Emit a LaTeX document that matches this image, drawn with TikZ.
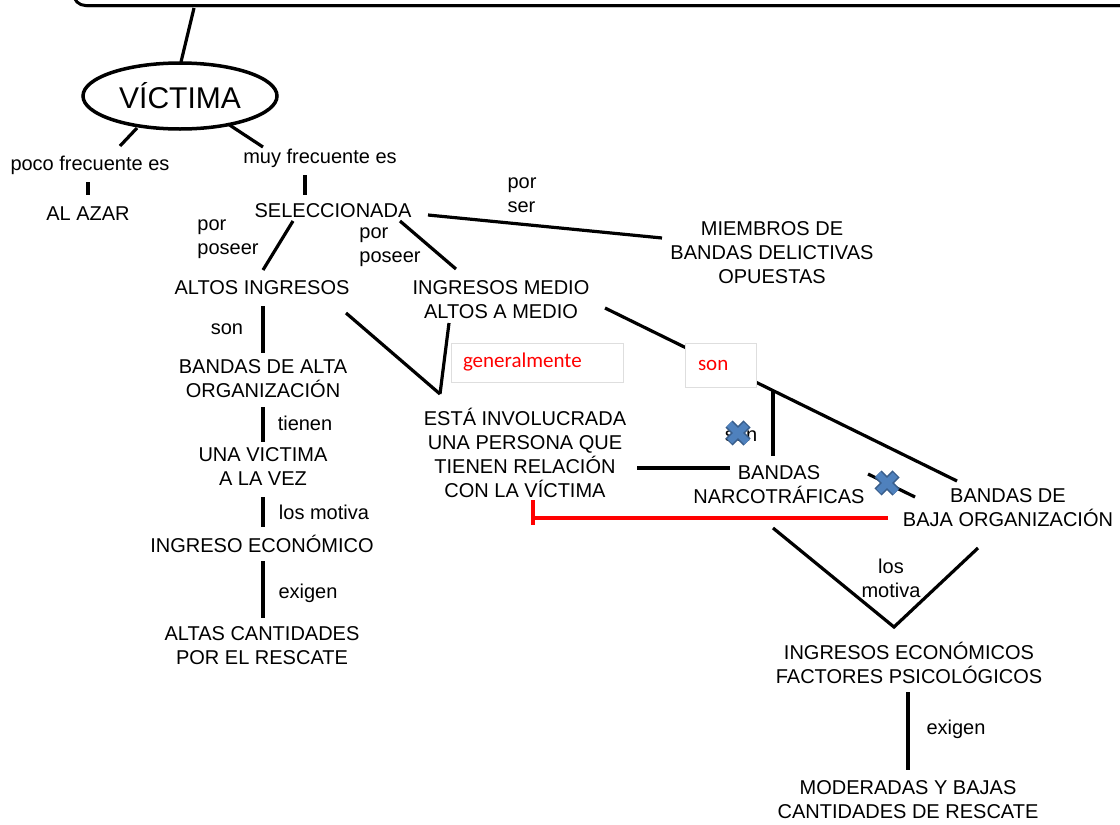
\documentclass[tikz,border=0pt]{standalone}
\usepackage{fontspec}
\setmainfont{Liberation Sans}
\newfontfamily\calibfont{Carlito}
\usetikzlibrary{shapes.geometric,calc,shadows}
\definecolor{xfill}{RGB}{79,129,189}
\definecolor{xedge}{RGB}{56,93,138}
\definecolor{boxedge}{RGB}{222,222,222}
\begin{document}
\begin{tikzpicture}[x=1pt,y=-1pt,
  concept/.style={font=\fontsize{20}{24}\selectfont, align=center, inner sep=0pt},
  linkword/.style={font=\fontsize{20}{24}\selectfont, align=left, inner sep=0pt},
  conn/.style={line width=3.2pt},
  redconn/.style={line width=4pt, red},
  notebox/.style={draw=boxedge, line width=0.8pt, fill=white, text=red,
     font=\calibfont\fontsize{21}{25}\selectfont, align=left, inner ysep=0pt},
  bluecross/.pic={
    \draw[xedge, line width=10pt] (-9,-9) -- (9,9) (-9,9) -- (9,-9);
    \draw[xfill, line width=7pt, shorten <=1.2pt, shorten >=1.2pt] (-9,-9) -- (9,9) (-9,9) -- (9,-9);
  }]
\useasboundingbox (0,0) rectangle (1120,825);
\clip (0,0) rectangle (1120,825);

% top frame
\node[draw, fill=white, line width=3pt, rounded corners=12pt, minimum width=1200pt,
      minimum height=80pt, anchor=south west,
      drop shadow={shadow xshift=2pt, shadow yshift=-2pt, fill=black!35}] (topbox) at (72,7) {};

% nodes
\node[ellipse, draw, line width=3.5pt, minimum width=194pt, minimum height=66pt, inner sep=0pt,
      font=\fontsize{30}{36}\selectfont] (victima) at (180,96) {VÍCTIMA};
\node[linkword] (poco) at (90,165) {poco frecuente es};
\node[linkword] (muy) at (320,158) {muy frecuente es};
\node[concept] (alazar) at (88,214) {AL AZAR};
\node[concept] (sel) at (333,211) {SELECCIONADA};
\node[linkword] (pp1) at (228,239) {por\\poseer};
\node[linkword] (pp2) at (390,247) {por\\poseer};
\node[linkword] (porser) at (522,195) {por\\ser};
\node[concept] (altos) at (262,288) {ALTOS INGRESOS};
\node[concept] (medio) at (501,300) {INGRESOS MEDIO\\ALTOS A MEDIO};
\node[concept] (miembros) at (772,253) {MIEMBROS DE\\BANDAS DELICTIVAS\\OPUESTAS};
\node[linkword] (son1) at (227,329) {son};
\node[concept] (bandasalta) at (263,379) {BANDAS DE ALTA\\ORGANIZACIÓN};
\node[linkword] (tienen) at (305,423) {tienen};
\node[concept] (unavictima) at (263,467) {UNA VICTIMA\\A LA VEZ};
\node[linkword] (losmotiva1) at (324,512) {los motiva};
\node[concept] (ingreso) at (262,544) {INGRESO ECONÓMICO};
\node[linkword] (exigen1) at (308,593) {exigen};
\node[concept] (altas) at (262,646) {ALTAS CANTIDADES\\POR EL RESCATE};
\node[concept] (esta) at (525,453) {ESTÁ INVOLUCRADA\\UNA PERSONA QUE\\TIENEN RELACIÓN\\CON LA VÍCTIMA};
\node[concept] (narco) at (779,485) {BANDAS\\NARCOTRÁFICAS};
\node[concept] (baja) at (1008,508) {BANDAS DE\\BAJA ORGANIZACIÓN};
\node[linkword] (son2) at (741,436) {son};
\node[concept] (losmotiva2) at (891,578) {los\\motiva};
\node[concept] (ingresos2) at (909,663) {INGRESOS ECONÓMICOS\\FACTORES PSICOLÓGICOS};
\node[linkword] (exigen2) at (956,729) {exigen};
\node[concept] (moderadas) at (908,800) {MODERADAS Y BAJAS\\CANTIDADES DE RESCATE};

% connectors
\draw[conn] ($(topbox.south west)+(122,1)$) -- ($(victima.center)+(1,-34)$);
\draw[conn] ($(victima.center)+(-43,32)$) -- ($(poco.center)+(30,-19)$);
\draw[conn] ($(victima.center)+(48,28)$) -- ($(muy.center)+(-57,-11)$);
\draw[conn] ($(poco.center)+(-2,17)$) -- ($(alazar.center)+(0,-19)$);
\draw[conn] ($(muy.center)+(-15,17)$) -- ($(sel.center)+(-28,-16)$);
\draw[conn] ($(sel.center)+(-40,10)$) -- ($(altos.center)+(1,-18)$);
\draw[conn] ($(sel.center)+(67,10)$) -- ($(medio.center)+(-45,-31)$);
\draw[conn] ($(sel.center)+(95,4)$) -- ($(miembros.center)+(-110,-15)$);
\draw[conn] ($(altos.center)+(1,18)$) -- ($(bandasalta.center)+(0,-26)$);
\draw[conn] ($(bandasalta.center)+(0,28)$) -- ($(unavictima.center)+(0,-25)$);
\draw[conn] ($(unavictima.center)+(0,30)$) -- ($(ingreso.center)+(1,-17)$);
\draw[conn] ($(ingreso.center)+(1,17)$) -- ($(altas.center)+(1,-28)$);
\draw[conn] ($(altos.center)+(84,25)$) -- ($(esta.center)+(-85,-59)$);
\draw[conn] ($(medio.center)+(-52,23)$) -- ($(esta.center)+(-85,-59)$);
\draw[conn] ($(medio.center)+(104,8)$) -- ($(baja.center)+(-51,-27)$);
\draw[conn] ($(esta.center)+(112,15)$) -- ($(narco.center)+(-49,-17)$);
\draw[conn] ($(narco.center)+(89,-11)$) -- ($(baja.center)+(-93,-11)$);
\coordinate (apex) at ($(ingresos2.center)+(-15,-36)$);
\draw[conn] ($(narco.center)+(-6,43)$) -- (apex) -- ($(baja.center)+(-30,40)$);
\draw[conn] ($(ingresos2.center)+(-1,29)$) -- ($(moderadas.center)+(0,-30)$);

% note boxes (cover the line)
\node[notebox, text width=148pt, inner xsep=12pt, minimum height=39pt] (genbox) at (537,362.5) {generalmente};
\node[notebox, text width=45pt, inner xsep=13pt, minimum height=44pt] (sonbox) at (720.5,365) {son};
\draw[conn] ($(sonbox.center)+(52.5,26)$) -- ($(narco.center)+(-6,-29)$);

% red connector with bar end
\coordinate (redend) at ($(esta.center)+(8,65)$);
\draw[redconn] ($(baja.center)+(-120,10)$) -- (redend) ($(redend)+(0,-18)$) -- ($(redend)+(0,7)$);

% blue crosses
\pic at (738,433) {bluecross};
\pic at (887,483) {bluecross};
\end{tikzpicture}
\end{document}
